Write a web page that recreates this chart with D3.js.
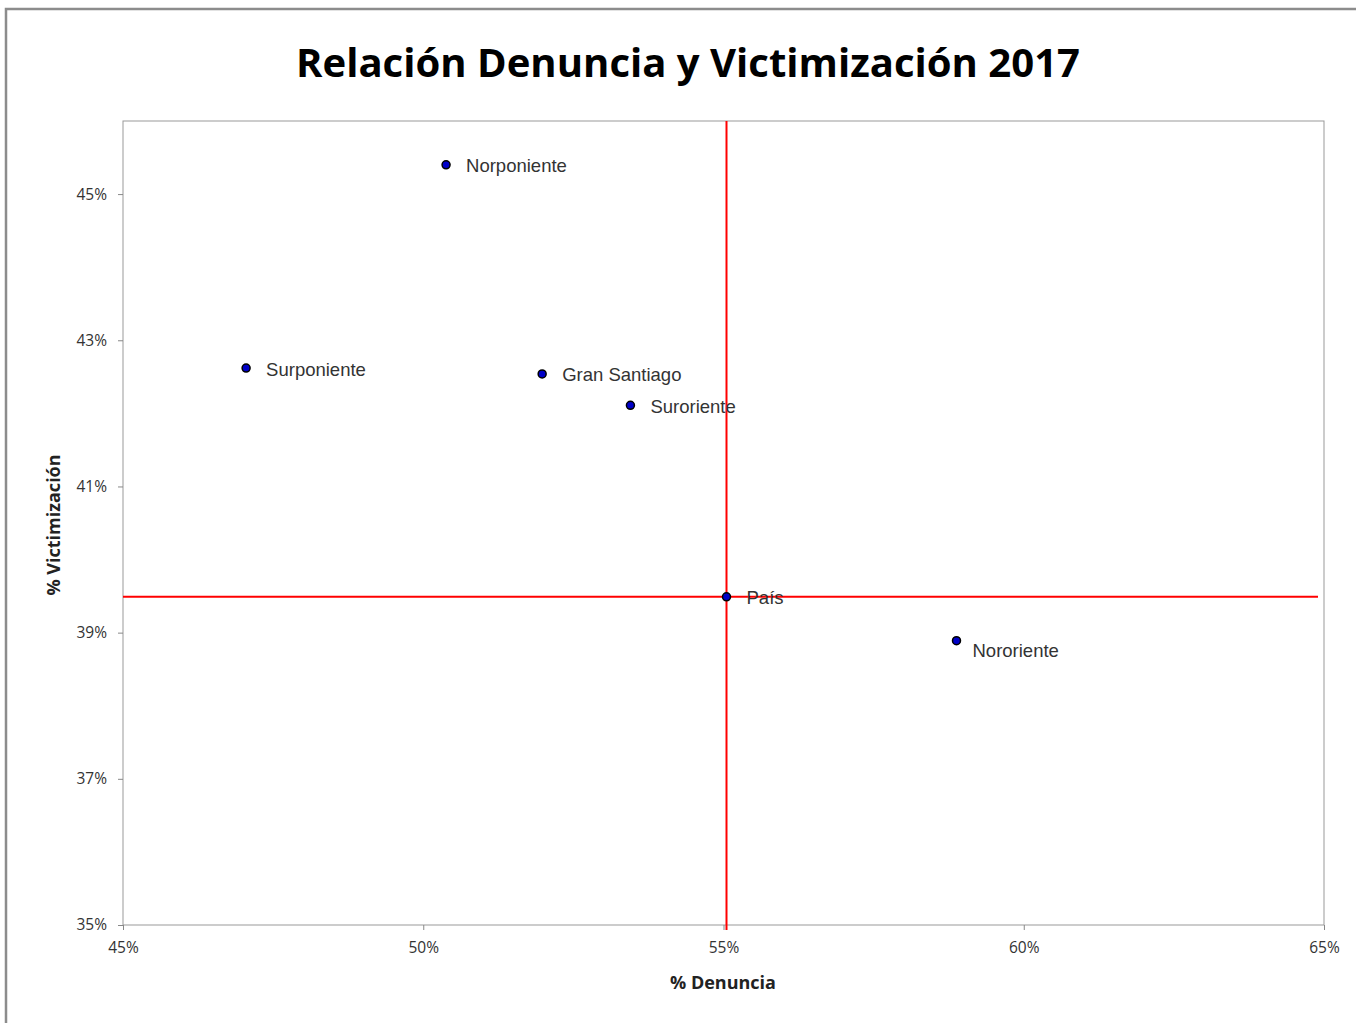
<!DOCTYPE html>
<meta charset="utf-8">
<style>
    body { margin: 0; background: #fff; }
    .tick text { font-family: "Open Sans", sans-serif; font-size: 15.5px; fill: #333; }
    .tick line { stroke: #888; }
    .domain { stroke: none; }
    .lbl { font-family: "Liberation Sans", Arial, sans-serif; font-size: 18.5px; fill: #333; }
    .atitle { font-family: "Open Sans", sans-serif; font-weight: bold; font-size: 18px; fill: #222; }
</style>
<body>
<script src="https://d3js.org/d3.v7.min.js"></script>
<script>
// data
var zonas = ["Norponiente", "Surponiente", "Gran Santiago", "Suroriente", "País", "Nororiente"];
var denuncia = [0.5038, 0.4705, 0.5198, 0.5345, 0.5505, 0.5888];
var victimizacion = [0.4540, 0.4262, 0.4254, 0.4211, 0.3949, 0.3889];
var xTicks = [0.45, 0.50, 0.55, 0.60, 0.65];
var yTicks = [0.35, 0.37, 0.39, 0.41, 0.43, 0.45];
// reference lines through País (Excel error bars)
var refX = [0.45, 0.649];
var refY = [0.3493, 0.46];

var W = 1356, H = 1023;
var margin = { top: 121, left: 123 },
    width = 1201,
    height = 804;

var svg = d3.select("body").append("svg")
    .attr("width", W)
    .attr("height", H);

// outer chart frame (right/bottom fall outside the picture)
svg.append("rect")
    .attr("x", 6).attr("y", 9)
    .attr("width", W + 20).attr("height", H + 20)
    .attr("fill", "#fff")
    .attr("stroke", "#8c8c8c")
    .attr("stroke-width", 2.5);

// title, sized to match the reference width
var title = svg.append("text")
    .attr("x", 688)
    .attr("y", 77)
    .attr("text-anchor", "middle")
    .style("font-family", "'Open Sans', sans-serif")
    .style("font-weight", "bold")
    .style("font-size", "36px")
    .style("fill", "#000")
    .text("Relación Denuncia y Victimización 2017");
var tw = title.node().getComputedTextLength();
title.style("font-size", (36 * 784 / tw) + "px");

var g = svg.append("g")
    .attr("transform", "translate(" + margin.left + "," + margin.top + ")");

var x = d3.scaleLinear().domain([0.45, 0.65]).range([0, width]);
var y = d3.scaleLinear().domain([0.35, 0.46]).range([height, 0]);

// plot area border
g.append("rect")
    .attr("x", 0).attr("y", 0)
    .attr("width", width).attr("height", height)
    .attr("fill", "none")
    .attr("stroke", "#999")
    .attr("stroke-width", 1);

g.append("g")
    .attr("transform", "translate(0," + height + ")")
    .call(d3.axisBottom(x).tickValues(xTicks).tickFormat(d3.format(".0%")).tickSize(5).tickPadding(12));

g.append("g")
    .call(d3.axisLeft(y).tickValues(yTicks).tickFormat(d3.format(".0%")).tickSize(5).tickPadding(11));

// red lines
var pais = zonas.indexOf("País");
g.append("line")
    .attr("x1", x(refX[0])).attr("x2", x(refX[1]))
    .attr("y1", y(victimizacion[pais])).attr("y2", y(victimizacion[pais]))
    .attr("stroke", "#ff0000").attr("stroke-width", 2);
g.append("line")
    .attr("x1", x(denuncia[pais])).attr("x2", x(denuncia[pais]))
    .attr("y1", y(refY[1])).attr("y2", y(refY[0]))
    .attr("stroke", "#ff0000").attr("stroke-width", 2);

// points
g.selectAll("circle.pt")
    .data(zonas)
    .enter().append("circle")
    .attr("class", "pt")
    .attr("cx", function (d, i) { return x(denuncia[i]); })
    .attr("cy", function (d, i) { return y(victimizacion[i]); })
    .attr("r", 4)
    .attr("fill", "#0000c8")
    .attr("stroke", "#000")
    .attr("stroke-width", 1.5);

// labels (Nororiente sits a bit lower in the reference)
g.selectAll("text.lbl")
    .data(zonas)
    .enter().append("text")
    .attr("class", "lbl")
    .attr("x", function (d, i) { return x(denuncia[i]) + (d === "Nororiente" ? 16 : 20); })
    .attr("y", function (d, i) { return y(victimizacion[i]) + (d === "Nororiente" ? 10 : 1); })
    .attr("dy", "0.35em")
    .text(function (d) { return d; });

// axis titles
svg.append("text")
    .attr("class", "atitle")
    .attr("x", 723)
    .attr("y", 989)
    .attr("text-anchor", "middle")
    .text("% Denuncia");

svg.append("text")
    .attr("class", "atitle")
    .attr("transform", "translate(60,525) rotate(-90)")
    .attr("text-anchor", "middle")
    .text("% Victimización");
</script>
</body>
